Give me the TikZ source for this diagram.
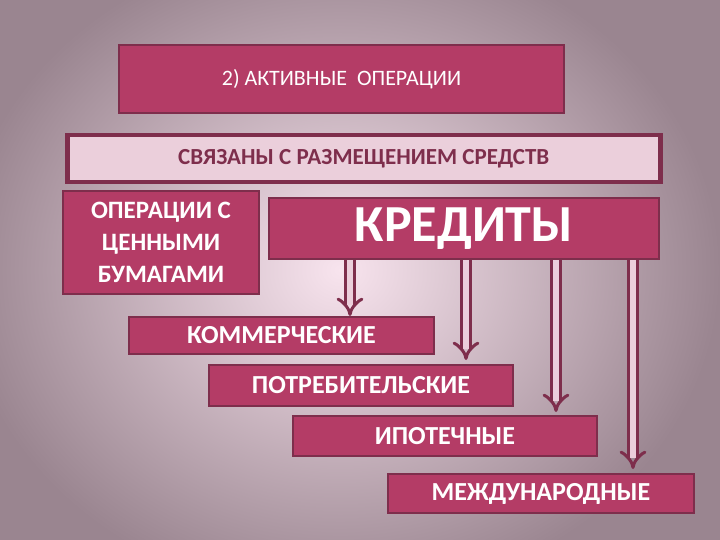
\documentclass[tikz,border=0pt]{standalone}
\usepackage{fontspec}
\setmainfont{Carlito}
\usetikzlibrary{arrows.meta,shadings}
\definecolor{boxfill}{HTML}{B43C66}
\definecolor{boxedge}{HTML}{7E2E4C}
\definecolor{lightfill}{HTML}{EBCFDB}
\definecolor{bgin}{HTML}{F8E4EE}
\definecolor{bgout}{HTML}{9A8590}
\begin{document}
\begin{tikzpicture}[x=1pt,y=-1pt,
  box/.style={draw=boxedge,line width=2pt,fill=boxfill,text=white,inner sep=0pt,anchor=north west},
  arr/.style={draw=boxedge,double=lightfill,double distance=6pt,line width=3pt,-{Implies}}]
\useasboundingbox (0,0) rectangle (720,540);
\begin{scope}
\clip (0,0) rectangle (720,540);
\shade[inner color=bgin,outer color=bgout] (-40,-60) rectangle (720,600);
\end{scope}
\node[box,minimum width=445pt,minimum height=68pt,font=\fontsize{22}{24}\selectfont] (t) at (118,44) {2) АКТИВНЫЕ\ \ ОПЕРАЦИИ};
\node[box,fill=lightfill,line width=4.5pt,text=boxedge,minimum width=593pt,minimum height=47pt,font=\bfseries\fontsize{23}{25}\selectfont] (s) at (65,133) {СВЯЗАНЫ С РАЗМЕЩЕНИЕМ СРЕДСТВ};
\node[box,minimum width=196pt,minimum height=103pt,align=center,font=\bfseries\fontsize{25}{32}\selectfont] (o) at (62,190) {ОПЕРАЦИИ С\\ЦЕННЫМИ\\БУМАГАМИ};
\node[box,minimum width=390pt,minimum height=61pt,font=\bfseries\fontsize{52}{54}\selectfont] (k) at (268,197) {КРЕДИТЫ};
\node[box,minimum width=305pt,minimum height=37pt,font=\bfseries\fontsize{26}{28}\selectfont] (c1) at (128,316) {КОММЕРЧЕСКИЕ};
\node[box,minimum width=304pt,minimum height=41pt,font=\bfseries\fontsize{26}{28}\selectfont] (c2) at (208,364) {ПОТРЕБИТЕЛЬСКИЕ};
\node[box,minimum width=304pt,minimum height=40pt,font=\bfseries\fontsize{26}{28}\selectfont] (c3) at (292,415) {ИПОТЕЧНЫЕ};
\node[box,minimum width=306pt,minimum height=39pt,font=\bfseries\fontsize{26}{28}\selectfont] (c4) at (387,473) {МЕЖДУНАРОДНЫЕ};
\draw[arr] (k.south west -| 350,0) -- (c1.north west -| 350,0);
\draw[arr] (k.south west -| 466,0) -- (466,360);
\draw[arr] (k.south west -| 556,0) -- (556,412);
\draw[arr] (k.south west -| 633,0) -- (633,469);
\end{tikzpicture}
\end{document}
